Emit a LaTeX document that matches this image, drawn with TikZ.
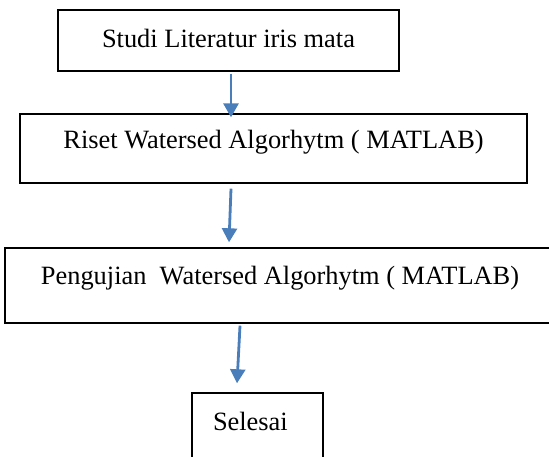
\documentclass[tikz,border=0pt]{standalone}
\usepackage{fontspec}
\setmainfont{Liberation Serif}
\usetikzlibrary{arrows.meta}

\definecolor{flowblue}{RGB}{74,126,187}

\begin{document}
\begin{tikzpicture}[x=1pt, y=-1pt,
    box/.style = {draw, line width=1.4pt, inner sep=0pt, text height=20pt,
      font=\fontsize{26.4}{30}\selectfont},
    flow/.style = {draw=flowblue, line width=2.8pt,
      -{Triangle[width=15pt,length=14pt]}, flowblue}]
    \useasboundingbox (0,0) rectangle (549,456);

    \node[box, minimum width=341pt, minimum height=61pt, text depth=7pt]
      (studi) at (228.5,40.5) {Studi Literatur iris mata};
    \node[box, minimum width=507pt, minimum height=69pt, text depth=21pt]
      (riset) at (273.5,148.5) {Riset Watersed Algorhytm ( MATLAB)};
    \node[box, minimum width=550pt, minimum height=75pt, text depth=23pt]
      (uji) at (280,285.5) {Pengujian~ Watersed Algorhytm ( MATLAB)};
    \node[box, minimum height=77pt, text depth=23pt, inner xsep=21pt,
      text width=89pt, align=left]
      (selesai) at (257.5,431.5) {Selesai};

    \draw[flow] ([xshift=2.5pt,yshift=-2pt]studi.south)
      -- ([xshift=-42.5pt,yshift=-4pt]riset.north);
    \draw[flow] ([xshift=-42.5pt,yshift=-5pt]riset.south)
      -- ([xshift=-51pt,yshift=5pt]uji.north);
    \draw[flow] ([xshift=-40pt,yshift=-2pt]uji.south)
      -- ([xshift=-20.5pt,yshift=9pt]selesai.north);
\end{tikzpicture}
\end{document}
